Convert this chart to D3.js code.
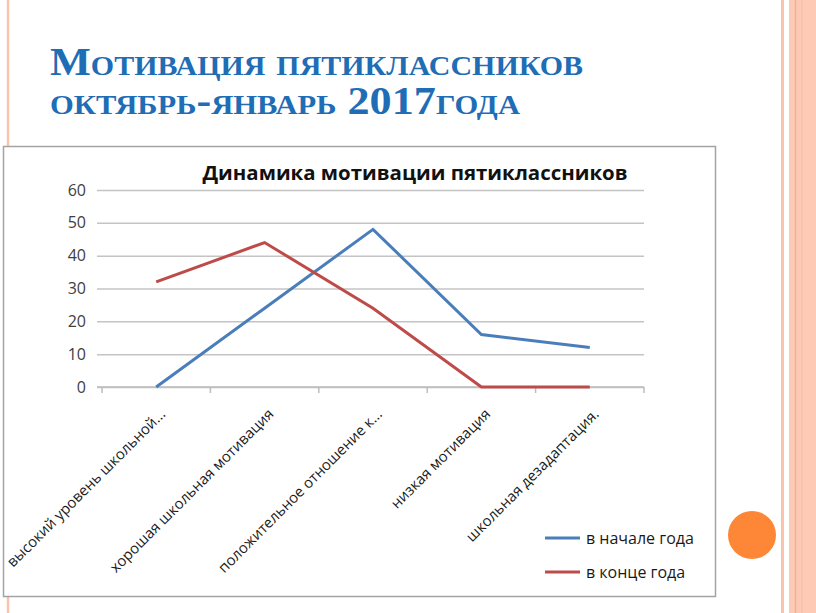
<!DOCTYPE html>
<html>
<head>
<meta charset="utf-8">
<script src="https://cdn.jsdelivr.net/npm/d3@7"></script>
<style>
  body { margin: 0; background: #fff; }
  svg { display: block; }
</style>
</head>
<body>
<svg id="slide"></svg>
<script>
// chart values
const categories = [
  'высокий уровень школьной...',
  'хорошая школьная мотивация',
  'положительное отношение к...',
  'низкая мотивация',
  'школьная дезадаптация.'
];
const startOfYear = [0, 24, 48, 16, 12];
const endOfYear = [32, 44, 24, 0, 0];
const seriesNames = ['в начале года', 'в конце года'];
const yTicks = [0, 10, 20, 30, 40, 50, 60];

const W = 816, H = 613;
const svg = d3.select('#slide').attr('width', W).attr('height', H);

// slide decoration
svg.append('line').attr('x1', 8).attr('x2', 8).attr('y1', 0).attr('y2', H)
  .attr('stroke', '#f9c3ae').attr('stroke-width', 2.5);
svg.append('line').attr('x1', 782.5).attr('x2', 782.5).attr('y1', 0).attr('y2', H)
  .attr('stroke', '#f9c3ae').attr('stroke-width', 3);
svg.append('rect').attr('x', 789).attr('y', 0).attr('width', W - 789).attr('height', H)
  .attr('fill', '#fdcab5');
svg.append('line').attr('x1', 795.5).attr('x2', 795.5).attr('y1', 0).attr('y2', H)
  .attr('stroke', '#f5b093').attr('stroke-width', 1.5);
svg.append('line').attr('x1', 802).attr('x2', 802).attr('y1', 0).attr('y2', H)
  .attr('stroke', '#f8bca3').attr('stroke-width', 1);
svg.append('circle').attr('cx', 752).attr('cy', 535).attr('r', 24).attr('fill', '#fd8637');

// slide title
const titleG = svg.append('g')
  .attr('fill', '#1f6db5')
  .style('font-family', '"Liberation Serif", "DejaVu Serif", serif')
  .style('font-weight', 'bold')
  .style('font-variant', 'small-caps')
  .style('font-size', '39px');
titleG.append('text').attr('x', 50).attr('y', 75)
  .attr('textLength', 533).attr('lengthAdjust', 'spacingAndGlyphs')
  .text('Мотивация пятиклассников');
titleG.append('text').attr('x', 50).attr('y', 114)
  .attr('textLength', 470).attr('lengthAdjust', 'spacingAndGlyphs')
  .text('октябрь-январь 2017года');

// chart frame
svg.append('rect').attr('x', 3.5).attr('y', 146.5).attr('width', 712).attr('height', 450)
  .attr('fill', '#fff').attr('stroke', '#a3a3a3').attr('stroke-width', 1.5);

svg.append('text')
  .attr('x', 415).attr('y', 180)
  .attr('text-anchor', 'middle')
  .attr('textLength', 425).attr('lengthAdjust', 'spacingAndGlyphs')
  .style('font-family', '"Open Sans", "Liberation Sans", sans-serif')
  .style('font-weight', 'bold')
  .style('font-size', '20px')
  .attr('fill', '#111')
  .text('Динамика мотивации пятиклассников');

const margin = { left: 102, right: 172, top: 190, bottom: 226 };
const x = d3.scaleBand().domain(categories).range([margin.left, W - margin.right]);
const y = d3.scaleLinear().domain([0, 60]).range([H - margin.bottom, margin.top]);

const fontSans = '"Open Sans", "Liberation Sans", sans-serif';

// gridlines + y labels
const yAxis = d3.axisLeft(y).tickValues(yTicks).tickSize(-(x.range()[1] - x.range()[0]) - 5).tickPadding(12);
const yG = svg.append('g').attr('transform', `translate(${margin.left - 5},0)`).call(yAxis);
yG.select('.domain').remove();
yG.selectAll('.tick line').attr('stroke', '#c4c4c4').attr('stroke-width', 1.5).attr('x1', 0);
yG.selectAll('.tick text').attr('x', -11)
  .style('font-family', fontSans).style('font-size', '16px').attr('fill', '#404040');

// x axis line with ticks on category boundaries
const xAxisG = svg.append('g').attr('transform', `translate(0,${y(0)})`);
xAxisG.append('line').attr('x1', margin.left - 5).attr('x2', x.range()[1])
  .attr('stroke', '#bdbdbd').attr('stroke-width', 1.5);
const bounds = categories.map(c => x(c)).concat([x.range()[1]]);
xAxisG.selectAll('.xtick').data(bounds).join('line')
  .attr('class', 'xtick')
  .attr('x1', d => d).attr('x2', d => d).attr('y1', 0).attr('y2', 6)
  .attr('stroke', '#bdbdbd').attr('stroke-width', 1.5);

xAxisG.selectAll('.xlabel').data(categories).join('text')
  .attr('class', 'xlabel')
  .attr('transform', d => `translate(${x(d) + x.bandwidth() / 2 + 10},${28}) rotate(-45)`)
  .attr('text-anchor', 'end')
  .style('font-family', fontSans).style('font-size', '14.8px')
  .attr('fill', '#1a1a1a')
  .text(d => d);

// lines
const line = d3.line()
  .x((d, i) => x(categories[i]) + x.bandwidth() / 2)
  .y(d => y(d));
const series = [
  { name: seriesNames[0], values: startOfYear, color: '#4a7ebb' },
  { name: seriesNames[1], values: endOfYear, color: '#be4b48' }
];
svg.selectAll('.series').data(series).join('path')
  .attr('class', 'series')
  .attr('d', d => line(d.values))
  .attr('fill', 'none')
  .attr('stroke', d => d.color)
  .attr('stroke-width', 3)
  .attr('stroke-linejoin', 'miter');

// legend
const legend = svg.append('g').attr('transform', 'translate(545,538)');
const item = legend.selectAll('g').data(series).join('g')
  .attr('transform', (d, i) => `translate(0,${i * 34})`);
item.append('line').attr('x1', 0).attr('x2', 35)
  .attr('stroke', d => d.color).attr('stroke-width', 3);
item.append('text').attr('x', 41).attr('dy', '0.35em')
  .style('font-family', fontSans).style('font-size', '16px')
  .attr('fill', '#1a1a1a')
  .text(d => d.name);
</script>
</body>
</html>
